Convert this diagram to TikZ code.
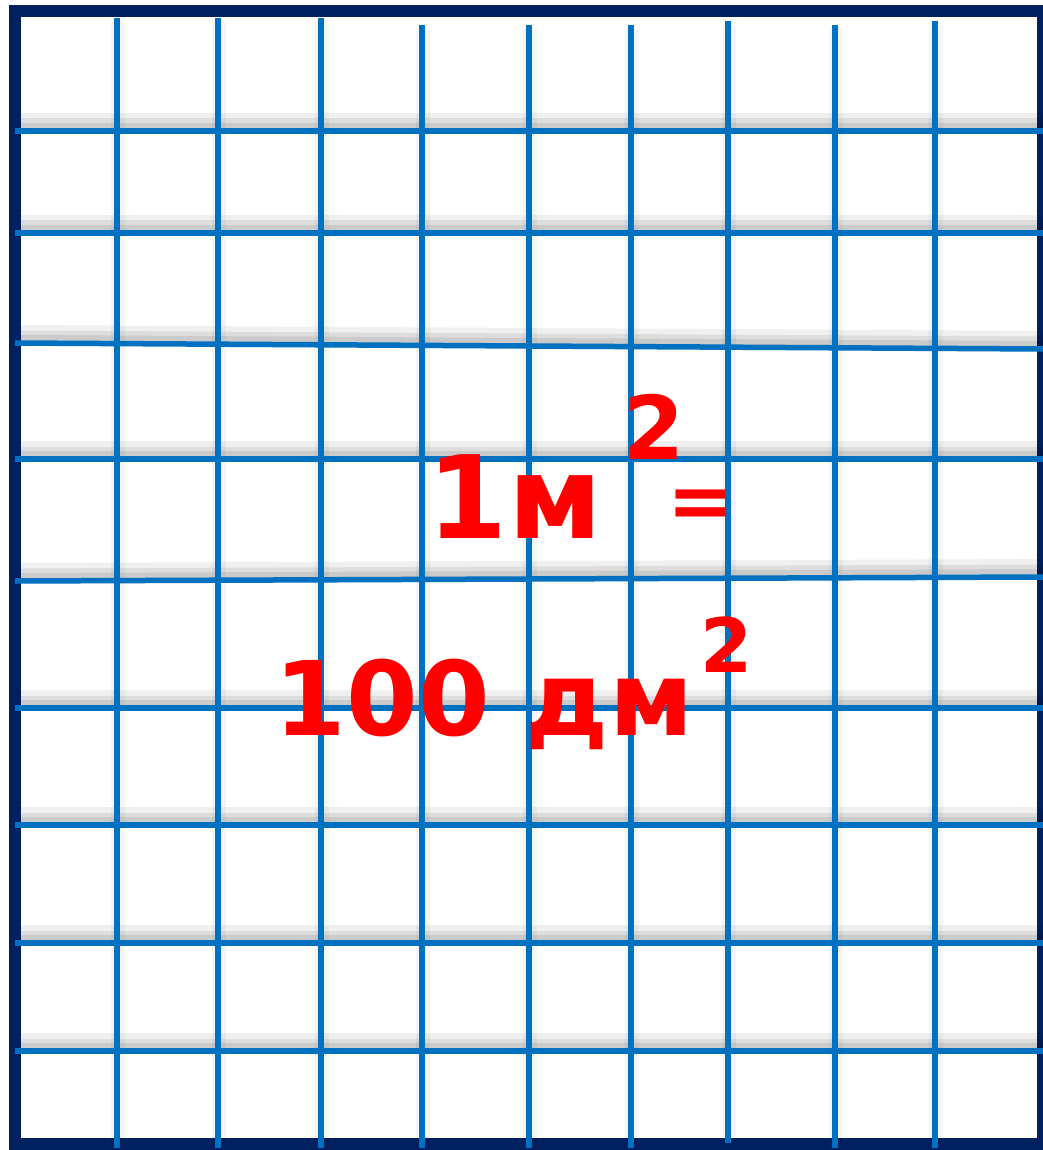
\documentclass[tikz,border=0pt]{standalone}
\usepackage{fontspec}
\setmainfont{DejaVu Sans}
\definecolor{navy}{RGB}{0,32,96}
\definecolor{gridblue}{RGB}{0,112,192}
\definecolor{txtred}{RGB}{255,0,0}
\tikzset{
  frame/.style={draw=navy,line width=12pt},
  gline/.style={draw=gridblue,line width=5.5pt},
  hshadowA/.style={draw=black,opacity=0.06,line width=18pt},
  hshadowB/.style={draw=black,opacity=0.08,line width=11pt},
  hshadowC/.style={draw=black,opacity=0.08,line width=6pt},
  vshadow/.style={draw=black,opacity=0.04,line width=14pt},
  bigtxt/.style={text=txtred,inner sep=0pt,font=\bfseries},
}
\newcommand{\fsz}[1]{\fontsize{#1}{#1}\selectfont}
\begin{document}
\begin{tikzpicture}[x=1pt,y=-1pt]
\useasboundingbox (0,0) rectangle (1043,1150);
\fill[white] (0,0) rectangle (1043,1150);
% frame
\draw[frame] (15,11) rectangle (1043,1144);
% shadows of horizontal lines
\foreach \ya/\yb in {131/131,233/233,343/349,459/459,581/577,708/708,825/825,943/943,1051/1051}{
  \draw[hshadowA] (21,\ya-9) -- (1043,\yb-9);
  \draw[hshadowB] (21,\ya-7) -- (1043,\yb-7);
  \draw[hshadowC] (21,\ya-5) -- (1043,\yb-5);
}
% shadows of vertical lines
\foreach \x/\t/\b in {117/18/1148,218/18/1148,321/18/1148,422/25/1148,529/25/1148,631/25/1148,728/21/1143,835/25/1148,935/21/1148}{
  \draw[vshadow] (\x+1,\t+4) -- (\x+1,\b-6);
}
% horizontal lines
\foreach \ya/\yb in {131/131,233/233,343/349,459/459,581/577,708/708,825/825,943/943,1051/1051}{
  \draw[gline] (15,\ya) -- (1043,\yb);
}
% vertical lines
\foreach \x/\t/\b in {117/18/1148,218/18/1148,321/18/1148,422/25/1148,529/25/1148,631/25/1148,728/21/1143,835/25/1148,935/21/1148}{
  \draw[gline] (\x,\t) -- (\x,\b);
}
% text
\node[bigtxt,anchor=base] (m1) at (515,538) {\fsz{115}1м};
\node[bigtxt,anchor=base] (sq1) at (654,459) {\fsz{88}2};
\node[bigtxt,anchor=base] (eq) at (701,528) {\fsz{80}=};
\node[bigtxt,anchor=base] (dm) at (484,735) {\fsz{103}100 дм};
\node[bigtxt,anchor=base] (sq2) at (727,672) {\fsz{75}2};
\end{tikzpicture}
\end{document}
